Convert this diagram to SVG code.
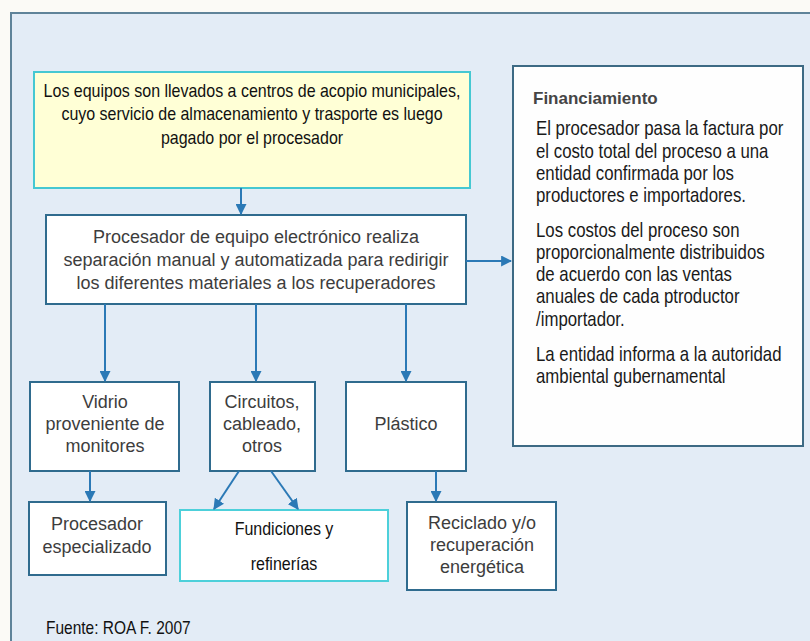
<svg xmlns="http://www.w3.org/2000/svg" width="810" height="641" viewBox="0 0 810 641">
<style>
.box{fill:#ffffff;stroke:#2f6b8e;stroke-width:2}
.g{font-family:"Liberation Sans",Arial,sans-serif;font-size:18px;fill:#3d3d3d;text-anchor:middle}
.k{font-family:"Liberation Sans",Arial,sans-serif;font-size:16px;fill:#111;text-anchor:middle}
.f{font-family:"Liberation Sans",Arial,sans-serif;font-size:16.8px;fill:#1a1a1a}
.c{fill:none;stroke:#2b79b6;stroke-width:2}
</style>
<defs>
<marker id="ah" viewBox="0 0 10 10" refX="9" refY="5" markerWidth="5.5" markerHeight="5.5" orient="auto" markerUnits="strokeWidth">
<path d="M0,0 L10,5 L0,10 z" fill="#2b79b6"/>
</marker>
</defs>
<rect x="0" y="0" width="810" height="641" fill="#fbfaf6"/>
<rect x="11" y="13" width="820" height="650" fill="#e3ecf6" stroke="#5f8399" stroke-width="2"/>

<g id="acopio">
<rect x="34" y="72" width="436" height="116" fill="#ffffd6" stroke="#45c8d2" stroke-width="2"/>
<text class="k" transform="translate(252,97) scale(1,1.2)">Los equipos son llevados a centros de acopio municipales,</text>
<text class="k" transform="translate(252,120) scale(1,1.2)">cuyo servicio de almacenamiento y trasporte es luego</text>
<text class="k" transform="translate(252,144) scale(1,1.2)">pagado por el procesador</text>
</g>

<g id="procesador">
<rect class="box" x="46" y="215" width="420" height="89"/>
<text class="g" x="256" y="243">Procesador de equipo electrónico realiza</text>
<text class="g" x="256" y="266">separación manual y automatizada para redirigir</text>
<text class="g" x="256" y="289">los diferentes materiales a los recuperadores</text>
</g>

<g id="financiamiento">
<rect x="513" y="66" width="290" height="380" fill="#fefefe" stroke="#3d6a84" stroke-width="2"/>
<text x="533" y="104" style="font-family:'Liberation Sans',Arial,sans-serif;font-size:17px;font-weight:bold;fill:#454545">Financiamiento</text>
<text class="f" transform="translate(536,135) scale(1,1.15)">El procesador  pasa la factura por</text>
<text class="f" transform="translate(536,158) scale(1,1.15)">el costo total del proceso a una</text>
<text class="f" transform="translate(536,180) scale(1,1.15)">entidad confirmada por los</text>
<text class="f" transform="translate(536,202) scale(1,1.15)">productores e importadores.</text>
<text class="f" transform="translate(536,237) scale(1,1.15)">Los costos del  proceso son</text>
<text class="f" transform="translate(536,259) scale(1,1.15)">proporcionalmente  distribuidos</text>
<text class="f" transform="translate(536,281) scale(1,1.15)">de acuerdo con las ventas</text>
<text class="f" transform="translate(536,303) scale(1,1.15)">anuales de cada ptroductor</text>
<text class="f" transform="translate(536,326) scale(1,1.15)">/importador.</text>
<text class="f" transform="translate(536,361) scale(1,1.15)">La entidad informa  a la autoridad</text>
<text class="f" transform="translate(536,383) scale(1,1.15)">ambiental gubernamental</text>
</g>

<g id="vidrio">
<rect class="box" x="30" y="382" width="149" height="89"/>
<text class="g" x="105" y="408">Vidrio</text>
<text class="g" x="105" y="430">proveniente de</text>
<text class="g" x="105" y="452">monitores</text>
</g>

<g id="circuitos">
<rect class="box" x="210" y="382" width="105" height="89"/>
<text class="g" x="262" y="408">Circuitos,</text>
<text class="g" x="262" y="430">cableado,</text>
<text class="g" x="262" y="452">otros</text>
</g>

<g id="plastico">
<rect class="box" x="346" y="382" width="120" height="89"/>
<text class="g" x="406" y="430">Plástico</text>
</g>

<g id="especializado">
<rect class="box" x="29" y="502" width="137" height="73"/>
<text class="g" x="97" y="530">Procesador</text>
<text class="g" x="97" y="553">especializado</text>
</g>

<g id="fundiciones">
<rect x="180" y="510" width="208" height="71" fill="#ffffff" stroke="#4dd0da" stroke-width="2"/>
<text class="k" transform="translate(284,535) scale(1,1.2)">Fundiciones y</text>
<text class="k" transform="translate(284,570) scale(1,1.2)">refinerías</text>
</g>

<g id="reciclado">
<rect class="box" x="407" y="502" width="149" height="88"/>
<text class="g" x="482" y="529">Reciclado y/o</text>
<text class="g" x="482" y="551">recuperación</text>
<text class="g" x="482" y="573">energética</text>
</g>

<g id="connectors">
<line class="c" x1="241" y1="188" x2="241" y2="214" marker-end="url(#ah)"/>
<line class="c" x1="466" y1="261" x2="511" y2="261" marker-end="url(#ah)"/>
<line class="c" x1="105" y1="304" x2="105" y2="381" marker-end="url(#ah)"/>
<line class="c" x1="256" y1="304" x2="256" y2="381" marker-end="url(#ah)"/>
<line class="c" x1="406" y1="304" x2="406" y2="381" marker-end="url(#ah)"/>
<line class="c" x1="90" y1="471" x2="90" y2="501" marker-end="url(#ah)"/>
<line class="c" x1="239" y1="471" x2="214" y2="509" marker-end="url(#ah)"/>
<line class="c" x1="271" y1="471" x2="298" y2="509" marker-end="url(#ah)"/>
<line class="c" x1="436" y1="471" x2="436" y2="501" marker-end="url(#ah)"/>
</g>

<text transform="translate(46,634) scale(1,1.2)" style="font-family:'Liberation Sans',Arial,sans-serif;font-size:15.5px;fill:#111">Fuente: ROA F. 2007</text>
</svg>
